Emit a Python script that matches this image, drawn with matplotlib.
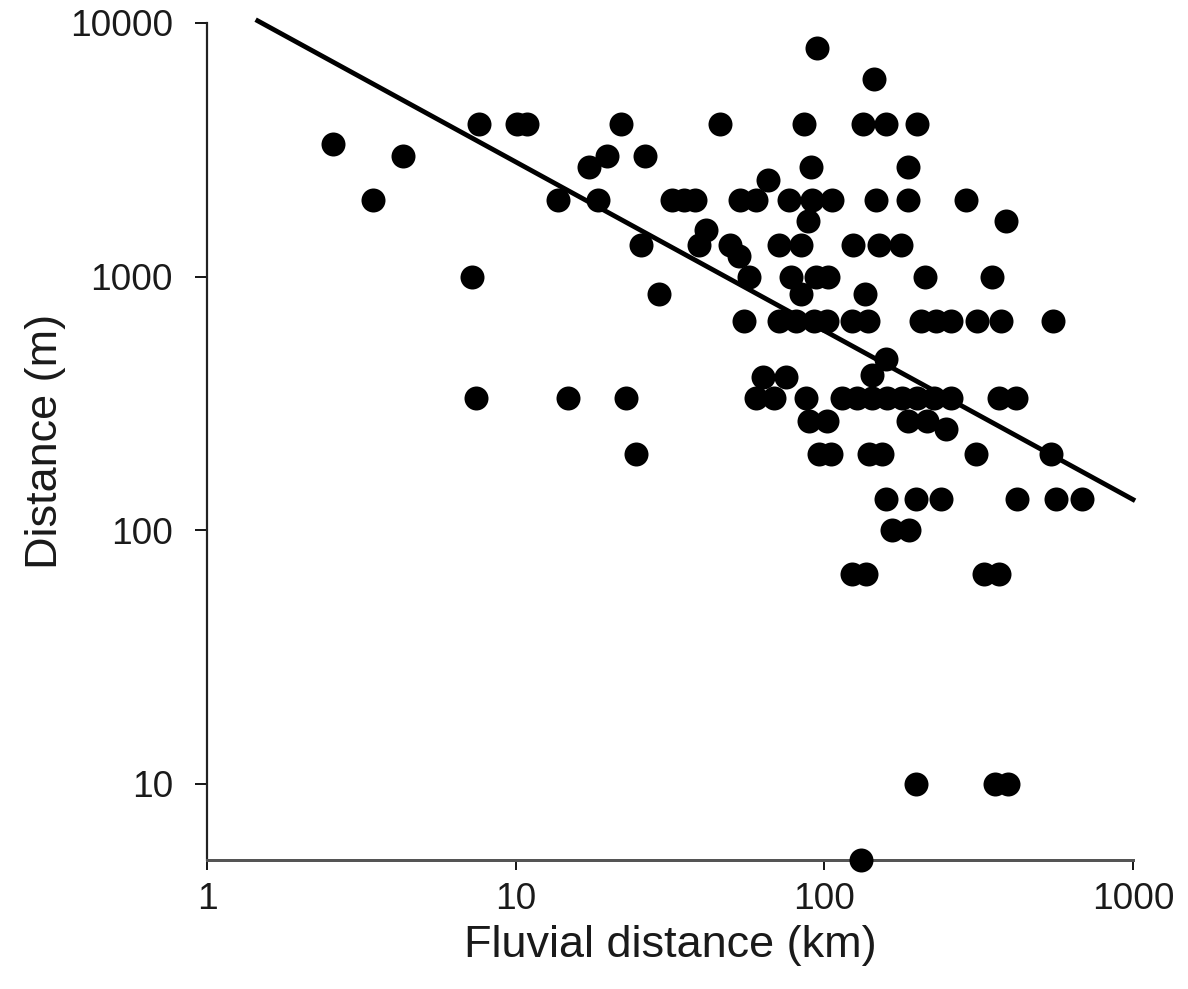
import matplotlib
matplotlib.use("Agg")
import matplotlib.pyplot as plt

plt.rcParams['font.family'] = ['Liberation Sans', 'DejaVu Sans']

# fluvial distance (km) and distance (m)
fluvial_km = [2.56, 3.44, 4.30, 7.24, 7.46, 7.59, 10.1, 10.9, 95, 22.0, 45.9, 86,
              19.7, 17.3, 26.2, 13.7, 18.5, 25.5, 29.1, 32.0, 35.0, 38.2,
              53.5, 60.2, 65.5, 77, 91, 106, 147, 187, 288, 90.6, 88.3,
              41.4, 39.2, 49.3, 53.1, 57.2, 71.5, 84, 123.5, 150, 177,
              133, 159, 199, 145, 186, 387, 78, 94, 102.5, 212, 350, 84, 135,
              55.1, 71.5, 81.2, 92.9, 102, 123, 138, 206, 230, 258, 313, 374, 551,
              63.1, 75.2, 143, 159,
              14.8, 22.8, 60.1, 68.9, 87.3, 114, 128, 143, 160, 179, 200, 227, 258, 368, 417,
              89.4, 102, 186, 215, 247,
              24.6, 96.4, 105.4, 140, 154, 310, 543,
              158, 198, 239, 422, 562, 685,
              166, 188.5,
              123, 136, 329, 368,
              198.5, 357, 394,
              131]
distance_m = [3333, 2000, 3000, 1000, 333, 4000, 4000, 4000, 8000, 4000, 4000, 4000,
              3000, 2700, 3000, 2000, 2000, 1330, 850, 2000, 2000, 2000,
              2000, 2000, 2400, 2000, 2000, 2000, 2000, 2000, 2000, 2700, 1650,
              1520, 1330, 1330, 1200, 1000, 1330, 1330, 1330, 1330, 1330,
              4000, 4000, 4000, 6000, 2700, 1650, 1000, 1000, 1000, 1000, 1000, 850, 850,
              670, 670, 670, 670, 670, 670, 670, 670, 670, 670, 670, 670, 670,
              400, 400, 408, 475,
              333, 333, 333, 333, 333, 333, 333, 333, 333, 333, 333, 333, 333, 333, 333,
              270, 270, 270, 270, 250,
              200, 200, 200, 200, 200, 200, 200,
              133, 133, 133, 133, 133, 133,
              100, 100,
              67, 67, 67, 67,
              10, 10, 10,
              5]

# power-law trend line end points
trend_x = [1.46, 1000]
trend_y = [10200, 132]

x_ticks = [1, 10, 100, 1000]
y_ticks = [10, 100, 1000, 10000]

fig = plt.figure(figsize=(1188 / 72, 989 / 72), dpi=72)
ax = fig.add_axes([207 / 1188, 1 - 860 / 989, (1133 - 207) / 1188, (860 - 23) / 989])

ax.plot(trend_x, trend_y, color='black', linewidth=4.8, clip_on=False, zorder=2)
ax.scatter(fluvial_km, distance_m, s=24 ** 2, color='black', linewidths=0,
           clip_on=False, zorder=3)

ax.set_xscale('log')
ax.set_yscale('log')
ax.set_xlim(1, 1000)
ax.set_ylim(5, 10000)
ax.set_xticks(x_ticks, [str(v) for v in x_ticks])
ax.set_yticks(y_ticks, [str(v) for v in y_ticks])
ax.minorticks_off()

for side in ['top', 'right']:
    ax.spines[side].set_visible(False)
ax.spines['left'].set_linewidth(2.2)
ax.spines['left'].set_color('#222222')
ax.spines['bottom'].set_linewidth(3)
ax.spines['bottom'].set_color('#555555')

ax.tick_params(axis='y', direction='out', length=12, width=2, pad=22,
               labelsize=37, colors='#1a1a1a')
ax.tick_params(axis='x', direction='out', length=10, width=2, pad=12,
               labelsize=37, colors='#1a1a1a')

ax.set_xlabel('Fluvial distance (km)', fontsize=45, color='#1a1a1a', labelpad=8)
ax.set_ylabel('Distance (m)', fontsize=45, color='#1a1a1a', labelpad=4)

fig.savefig('out.png', dpi=72)
